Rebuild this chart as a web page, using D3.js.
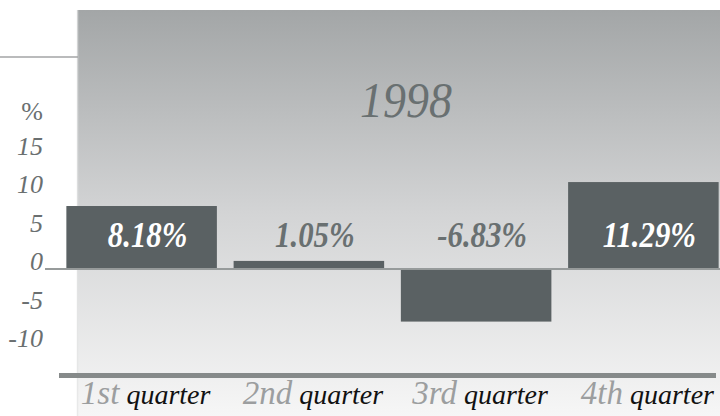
<!DOCTYPE html>
<html>
<head>
<meta charset="utf-8">
<script src="https://cdn.jsdelivr.net/npm/d3@7"></script>
<style>
  html, body { margin: 0; padding: 0; background: #fff; }
  svg { display: block; }
</style>
</head>
<body>
<script>
const ordinals = ["1st", "2nd", "3rd", "4th"];
const quarterWord = "quarter";
const values = [8.18, 1.05, -6.83, 11.29];
const valueLabels = ["8.18%", "1.05%", "-6.83%", "11.29%"];
const tickValues = [15, 10, 5, 0, -5, -10];
const title = "1998";

const width = 720, height = 416;
const serif = "Liberation Serif";

const svg = d3.select("body").append("svg")
  .attr("width", width)
  .attr("height", height)
  .attr("font-family", serif)
  .attr("font-style", "italic");

const defs = svg.append("defs");
const grad = defs.append("linearGradient")
  .attr("id", "panelGrad")
  .attr("x1", 0).attr("y1", 0).attr("x2", 0).attr("y2", 1);
grad.append("stop").attr("offset", "0%").attr("stop-color", "#a3a6a7");
grad.append("stop").attr("offset", "50%").attr("stop-color", "#d3d4d5");
grad.append("stop").attr("offset", "100%").attr("stop-color", "#f6f6f6");

// background panel
svg.append("rect")
  .attr("x", 77).attr("y", 10)
  .attr("width", width - 77).attr("height", height - 10)
  .attr("fill", "url(#panelGrad)");
svg.append("line")
  .attr("x1", 77.5).attr("x2", 77.5).attr("y1", 10).attr("y2", height)
  .attr("stroke", "#e4e5e5").attr("stroke-width", 1.5).attr("opacity", 0.7);

// thin rule at the left
svg.append("line")
  .attr("x1", 0).attr("x2", 78).attr("y1", 57).attr("y2", 57)
  .attr("stroke", "#a3a5a6").attr("stroke-width", 1.5);

const x = d3.scaleBand()
  .domain(ordinals)
  .range([58, 727])
  .paddingInner(0.1)
  .paddingOuter(0.05);

const y = d3.scaleLinear()
  .domain([-10, 15])
  .range([346, 153.5]);

// title (narrow face, so squeeze it a little)
svg.append("text")
  .attr("transform", "translate(406,117) scale(0.92,1)")
  .attr("text-anchor", "middle")
  .attr("font-family", serif)
  .attr("font-size", 50)
  .attr("fill", "#697071")
  .text(title);

// y tick labels
svg.append("g")
  .selectAll("text")
  .data(tickValues)
  .enter()
  .append("text")
  .attr("x", 43)
  .attr("y", d => y(d) + 1)
  .attr("text-anchor", "end")
  .attr("font-family", serif)
  .attr("font-size", 26)
  .attr("fill", "#6a6f70")
  .text(d => d);

svg.append("text")
  .attr("x", 43).attr("y", y(15) - 34)
  .attr("text-anchor", "end")
  .attr("font-family", serif)
  .attr("font-size", 26)
  .attr("font-style", "normal")
  .attr("fill", "#6a6f70")
  .text("%");

// bars
svg.append("g")
  .selectAll("rect")
  .data(values)
  .enter()
  .append("rect")
  .attr("x", (d, i) => x(ordinals[i]))
  .attr("width", x.bandwidth())
  .attr("y", d => Math.min(y(d), y(0)))
  .attr("height", d => Math.abs(y(d) - y(0)))
  .attr("fill", "#5a6163");

// zero line
svg.append("line")
  .attr("x1", 45).attr("x2", width)
  .attr("y1", y(0)).attr("y2", y(0))
  .attr("stroke", "#979b9b").attr("stroke-width", 2);

// value labels
svg.append("g")
  .selectAll("text")
  .data(values)
  .enter()
  .append("text")
  .attr("transform", (d, i) =>
    `translate(${x(ordinals[i]) + x.bandwidth() / 2 + 6},247) scale(0.88,1)`)
  .attr("text-anchor", "middle")
  .attr("font-family", serif)
  .attr("font-size", 35)
  .attr("font-weight", "bold")
  .attr("fill", d => (y(0) - y(d) > 40 ? "#ffffff" : "#697071"))
  .text((d, i) => valueLabels[i]);

// bottom axis rule
svg.append("line")
  .attr("x1", 59).attr("x2", 716)
  .attr("y1", 375.5).attr("y2", 375.5)
  .attr("stroke", "#868a8a").attr("stroke-width", 5);

// category labels
const cat = svg.append("g")
  .selectAll("text")
  .data(ordinals)
  .enter()
  .append("text")
  .attr("x", d => x(d) + x.bandwidth() / 2 + 4)
  .attr("y", 404)
  .attr("text-anchor", "middle")
  .attr("font-family", serif);

cat.append("tspan")
  .attr("font-size", 33)
  .attr("fill", "#9c9e9f")
  .text(d => d);

cat.append("tspan")
  .attr("font-size", 28)
  .attr("fill", "#111")
  .text(" " + quarterWord);
</script>
</body>
</html>
